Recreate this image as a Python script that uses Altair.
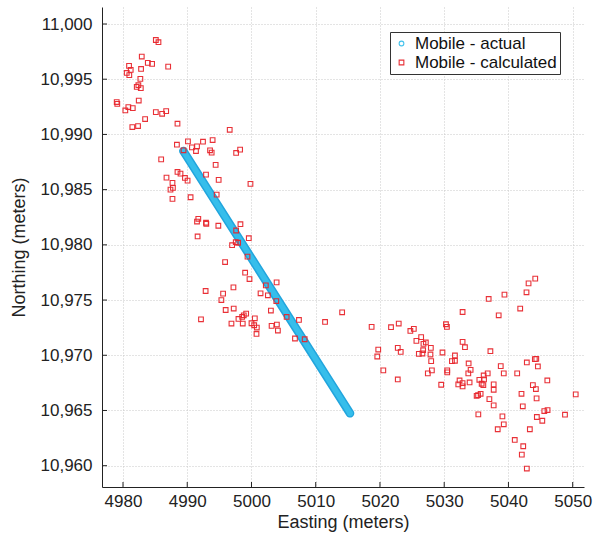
import altair as alt
import pandas as pd

# Actual mobile track (straight path between its two ends)
actual_e = [4989.39, 5015.34]
actual_n = [10988.50, 10964.74]

# Calculated mobile positions
calc_e = [
    4985.11, 4985.52, 4982.92, 4983.86, 4984.53, 4980.94, 4987.03, 4981.20, 4982.81, 4980.58,
    4980.98, 4982.70, 4982.39, 4982.14, 4982.77, 4979.02, 4979.11, 4982.45, 4980.83, 4981.52,
    4980.36, 4985.11, 4986.72, 4986.09, 4983.44, 4988.48, 4981.45, 4982.34, 4996.61,
    4988.39, 4990.11, 4990.73, 4991.52, 4991.36, 4992.45, 4993.95, 4993.55, 4993.80, 4997.61,
    4998.23, 4989.42, 4985.94, 4994.42, 4988.48, 4988.95, 4986.77, 4989.64, 4990.05, 4992.92,
    4994.89, 4999.84, 4987.70, 4987.77, 4987.39, 4987.70, 4990.52, 4994.58, 4991.72, 4991.52,
    4992.92, 4992.97, 4991.61, 4994.84, 4997.61, 4998.28, 4997.55, 4997.92, 4996.98, 4999.58,
    4999.38, 4995.89,
    4999.01, 4999.69, 4992.86, 4995.58, 4997.19, 4995.31, 5001.41, 5002.55, 5002.23, 5003.91,
    5003.86, 4995.98, 4997.23, 5003.02, 4992.14, 4996.88, 4997.97, 4998.55, 4998.80, 4999.17,
    4998.64, 5000.00, 5000.52, 5000.42, 5000.83, 5000.78, 5003.13, 5003.95, 5004.11, 5005.47,
    5007.39, 5006.77, 5008.28, 5011.45, 5014.11,
    5018.70, 5021.72, 5022.92, 5024.73, 5025.27, 5025.67, 5026.41, 5026.77, 5027.14, 5019.73,
    5019.58, 5022.77, 5023.23, 5026.72, 5026.05, 5026.61, 5027.92, 5027.86, 5027.97, 5020.52,
    5022.77, 5028.08, 5027.45, 5029.53, 5029.73, 5030.27, 5030.42, 5032.86, 5032.86, 5033.23,
    5031.67, 5031.20, 5031.67, 5030.47, 5030.47, 5033.80, 5034.11, 5033.75, 5032.39, 5032.19,
    5032.86, 5032.86, 5033.95, 5035.05, 5035.27, 5035.67, 5035.31,
    5044.17, 5043.13, 5042.81, 5039.38, 5036.92, 5041.83, 5038.48, 5037.19, 5044.11, 5044.33,
    5042.86, 5044.58, 5038.80, 5039.27, 5036.77, 5036.14, 5036.20, 5035.47, 5041.36, 5037.70,
    5037.70, 5036.09, 5035.83, 5037.03, 5037.70, 5043.80, 5044.27, 5046.05, 5042.03, 5044.38,
    5042.23, 5050.47, 5039.06, 5039.27, 5038.33, 5043.33, 5044.42, 5045.58, 5046.09, 5045.27,
    5048.80, 5040.98, 5042.30, 5042.08, 5042.86,
]
calc_n = [
    10998.55, 10998.35, 10997.05, 10996.48, 10996.39, 10996.21, 10996.14, 10995.84, 10995.93, 10995.57,
    10995.37, 10995.03, 10994.46, 10994.31, 10994.19, 10992.93, 10992.77, 10993.07, 10992.48, 10992.38,
    10992.17, 10992.02, 10992.11, 10991.87, 10991.39, 10990.97, 10990.67, 10990.76, 10990.42,
    10989.07, 10989.37, 10988.83, 10988.92, 10988.50, 10989.34, 10989.49, 10988.56, 10988.35, 10988.32,
    10988.62, 10988.56, 10987.74, 10987.24, 10986.60, 10986.45, 10986.09, 10986.06, 10985.82, 10986.36,
    10985.88, 10985.52, 10985.61, 10985.16, 10985.00, 10984.16, 10984.31, 10984.55, 10982.36, 10982.11,
    10982.00, 10981.90, 10980.76, 10981.73, 10981.30, 10981.87, 10980.24, 10980.19, 10979.97, 10980.60,
    10978.93, 10978.44,
    10977.48, 10976.90, 10975.82, 10975.58, 10976.15, 10975.00, 10975.61, 10975.43, 10976.33, 10976.60,
    10974.91, 10974.10, 10974.23, 10974.05, 10973.26, 10972.87, 10973.29, 10973.47, 10973.62, 10973.77,
    10972.87, 10972.90, 10973.35, 10972.72, 10972.51, 10971.93, 10972.66, 10972.78, 10972.24, 10973.47,
    10973.20, 10971.52, 10971.45, 10973.02, 10973.89,
    10972.57, 10972.54, 10972.87, 10972.20, 10972.39, 10971.30, 10971.64, 10971.03, 10971.16, 10970.52,
    10969.89, 10970.67, 10970.31, 10970.46, 10970.13, 10970.16, 10970.67, 10970.07, 10969.47, 10968.63,
    10967.81, 10968.63, 10968.36, 10967.33, 10970.25, 10972.81, 10972.57, 10973.92, 10971.21, 10970.73,
    10969.98, 10969.47, 10969.50, 10968.63, 10968.45, 10969.26, 10968.68, 10968.36, 10967.72, 10967.36,
    10967.48, 10967.18, 10967.54, 10966.33, 10966.39, 10966.51, 10964.65,
    10976.94, 10976.51, 10975.70, 10975.49, 10975.10, 10974.23, 10973.62, 10970.37, 10969.65, 10969.67,
    10969.35, 10968.99, 10969.02, 10968.36, 10968.36, 10968.17, 10967.81, 10967.78, 10968.36, 10967.36,
    10966.87, 10967.30, 10967.42, 10966.03, 10965.46, 10967.30, 10966.94, 10967.72, 10966.51, 10966.10,
    10965.38, 10966.46, 10964.47, 10963.75, 10963.30, 10963.30, 10964.41, 10964.95, 10965.04, 10964.07,
    10964.62, 10962.33, 10961.76, 10961.00, 10959.74,
]

series_names = ["Mobile - actual", "Mobile - calculated"]
x_ticks = [4980, 4990, 5000, 5010, 5020, 5030, 5040, 5050]
y_ticks = [10960, 10965, 10970, 10975, 10980, 10985, 10990, 10995, 11000]

FONT = "Liberation Sans"
INK = "#222222"
CYAN = "#36BEEB"
CYAN_DARK = "#22A5DD"
RED = "#E8262D"
W, H = 482, 480

actual_df = pd.DataFrame({"E": actual_e, "N": actual_n, "series": series_names[0]})
calc_df = pd.DataFrame({"E": calc_e, "N": calc_n, "series": series_names[1]})
points_df = pd.concat([actual_df, calc_df], ignore_index=True)
xt_df = pd.DataFrame({"E": x_ticks})
yt_df = pd.DataFrame({"N": y_ticks})

xscale = alt.Scale(domain=[4976.73, 5051.76], nice=False, zero=False)
yscale = alt.Scale(domain=[10958.07, 11001.54], nice=False, zero=False)

x_enc = alt.X("E:Q", scale=xscale, title="Easting (meters)",
              axis=alt.Axis(values=x_ticks, format="d", labelPadding=6, titlePadding=4))
y_enc = alt.Y("N:Q", scale=yscale, title="Northing (meters)",
              axis=alt.Axis(values=y_ticks, format=",d", labelPadding=10, titlePadding=12))

legend_opts = dict(
    title=None, orient="none", legendX=288, legendY=25,
    labelFont=FONT, labelFontSize=17, labelColor="#111111",
    symbolSize=22, symbolStrokeWidth=1.1,
    strokeColor="#333333", fillColor="white", padding=3,
    rowPadding=1, labelOffset=5, cornerRadius=0,
)

# Wide band for the actual track: darker rim with a lighter core
band_outer = alt.Chart(actual_df).mark_line(
    strokeWidth=8.5, strokeCap="round", color=CYAN_DARK
).encode(x=x_enc, y=y_enc)
band_inner = alt.Chart(actual_df).mark_line(
    strokeWidth=5.5, strokeCap="round", color=CYAN
).encode(x=x_enc, y=y_enc)

pts = alt.Chart(points_df).mark_point(
    filled=False, size=22, strokeWidth=1.1, opacity=0.95
).encode(
    x=x_enc,
    y=y_enc,
    color=alt.Color("series:N", scale=alt.Scale(domain=series_names, range=[CYAN, RED]),
                    legend=alt.Legend(**legend_opts)),
    shape=alt.Shape("series:N", scale=alt.Scale(domain=series_names, range=["circle", "square"]),
                    legend=alt.Legend(**legend_opts)),
)

# Inward tick marks on both axes
xticks_layer = alt.Chart(xt_df).mark_rule(color=INK, strokeWidth=1).encode(
    x=x_enc, y=alt.value(H), y2=alt.value(H - 5)
)
yticks_layer = alt.Chart(yt_df).mark_rule(color=INK, strokeWidth=1).encode(
    y=y_enc, x=alt.value(0), x2=alt.value(5)
)

chart = alt.layer(band_outer, band_inner, pts, xticks_layer, yticks_layer).properties(
    width=W, height=H,
    padding={"left": 102, "top": 7, "right": 10, "bottom": 50},
    autosize=alt.AutoSizeParams(type="none"),
    background="white",
).configure_view(
    stroke=None
).configure_axis(
    grid=True, gridColor="#c8c8c8", gridDash=[1, 2], gridWidth=1,
    domainColor=INK, domainWidth=1, ticks=False,
    labelFont=FONT, labelFontSize=17, labelColor=INK,
    titleFont=FONT, titleFontSize=18, titleFontWeight="normal", titleColor=INK,
)

chart.save("out.html", embed_options={"renderer": "svg", "actions": False})
